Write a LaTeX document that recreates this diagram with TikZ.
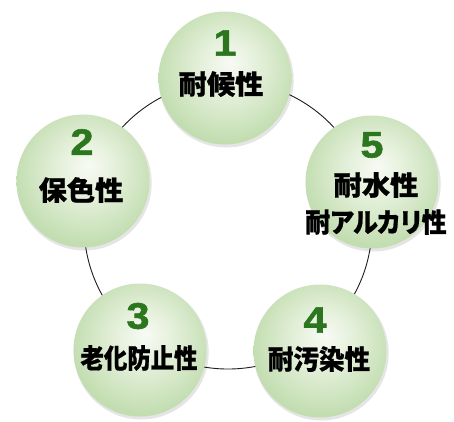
\documentclass[tikz,border=0pt]{standalone}
\usepackage{fontspec}
\setmainfont{Liberation Sans}
\newfontfamily\numfont{Liberation Sans}[BoldFeatures={FakeBold=1.5}]
\newfontfamily\jp{Noto Sans CJK JP}[BoldFeatures={FakeBold=0.8}]
\newfontfamily\jpp{Noto Sans CJK JP}[RawFeature=+palt, BoldFeatures={FakeBold=0.8}]
\usetikzlibrary{calc}
\definecolor{numgreen}{RGB}{44,118,32}
\definecolor{bc0}{RGB}{248,250,244}
\definecolor{bc1}{RGB}{228,240,218}
\definecolor{bc2}{RGB}{194,221,176}
\definecolor{ringcol}{RGB}{30,30,30}
\pgfdeclareradialshading{bubble}{\pgfpoint{2bp}{6bp}}{color(0bp)=(bc0); color(11bp)=(bc1); color(27bp)=(bc2); color(50bp)=(bc2)}
\tikzset{
  ball/.style={circle, minimum size=133bp, inner sep=0pt, shading=bubble},
  ballshadow/.style={fill=black, opacity=0.10},
  numtext/.style={text=numgreen, inner sep=0pt, font=\numfont\bfseries\fontsize{37}{37}\selectfont},
  labeltext/.style={text=black, inner sep=0pt, font=\jp\bfseries\fontsize{27}{27}\selectfont},
  labeltextp/.style={text=black, inner sep=0pt, font=\jpp\bfseries\fontsize{27}{27}\selectfont},
  ring/.style={draw=ringcol, line width=0.9bp}
}
\begin{document}
\begin{tikzpicture}[x=1bp, y=-1bp]
\useasboundingbox (0,0) rectangle (454,421);
% centres
\coordinate (ctr) at (228,225);
\coordinate (c1) at (225,78);
\coordinate (c2) at (83,181);
\coordinate (c5) at (372,182);
\coordinate (c3) at (140,350);
\coordinate (c4) at (320,351);
% ring
\draw[ring] (ctr) circle (144);
% shadows
\foreach \c in {c1,c2,c3,c4,c5}{
  \fill[ballshadow] ($(\c)+(1.2,2)$) circle (67.5);
}
% balls
\node[ball] (b1) at (c1) {};
\node[ball] (b2) at (c2) {};
\node[ball] (b5) at (c5) {};
\node[ball] (b3) at (c3) {};
\node[ball] (b4) at (c4) {};
% numbers
\node[numtext] (n1) at (225,43) {\scalebox{1.12}[1]{1}};
\node[numtext] (n2) at (82,142) {\scalebox{1.12}[1]{2}};
\node[numtext] (n5) at (372,145) {\scalebox{1.12}[1]{5}};
\node[numtext] (n3) at (138,316) {\scalebox{1.12}[1]{3}};
\node[numtext] (n4) at (315,320) {\scalebox{1.12}[1]{4}};
% labels
\node[labeltext] (l1) at (221,84) {\scalebox{1.05}[1]{耐候性}};
\node[labeltext] (l2) at (81,190) {\scalebox{1.05}[1]{保色性}};
\node[labeltext] (l5a) at (376,185) {\scalebox{1.05}[1]{耐水性}};
\node[labeltextp] (l5b) at (376,222) {\scalebox{0.93}[1]{耐アルカリ性}};
\node[labeltext] (l3) at (139,358) {\scalebox{0.87}[1]{老化防止性}};
\node[labeltext] (l4) at (319,359) {\scalebox{0.95}[1]{耐汚染性}};
\end{tikzpicture}
\end{document}
